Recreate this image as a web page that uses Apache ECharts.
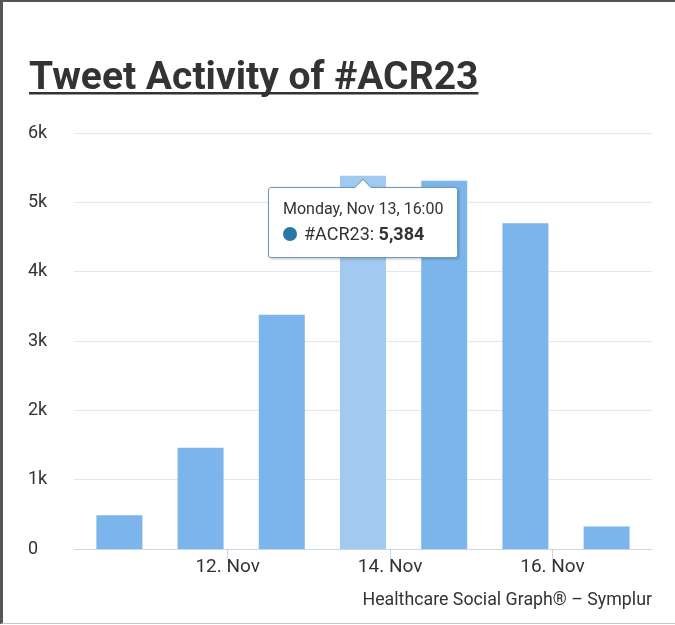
<!DOCTYPE html>
<html>
<head>
<meta charset="utf-8">
<script src="https://cdn.jsdelivr.net/npm/echarts@6/dist/echarts.min.js"></script>
<style>
  html, body { margin: 0; padding: 0; background: #fff; }
  #wrap { position: relative; width: 675px; height: 625px; }
  #chart { position: absolute; left: 0; top: 0; width: 675px; height: 625px; }
  #frame { position: absolute; left: 0; top: 0; width: 675px; height: 624px; box-sizing: border-box;
           border-left: 3px solid #555; border-top: 2px solid #555; border-bottom: 1px solid #c8c8c8; pointer-events: none; }
  .hc-tip::before { content: ''; position: absolute; left: 50%; top: -7px; width: 11px; height: 11px; margin-left: -6px;
           background: #fff; border-left: 1px solid #6b9bbb; border-top: 1px solid #6b9bbb; transform: rotate(45deg); }
</style>
</head>
<body>
<div id="wrap"><div id="chart"></div><div id="frame"></div></div>
<script>
// ---- data ----
const titleText = 'Tweet Activity of #ACR23';
const creditText = 'Healthcare Social Graph\u00AE \u2013 Symplur';
const seriesName = '#ACR23';
const barDates = ['2023-11-10 16:00', '2023-11-11 16:00', '2023-11-12 16:00', '2023-11-13 16:00',
                  '2023-11-14 16:00', '2023-11-15 16:00', '2023-11-16 16:00'];
const barValues = [485, 1460, 3380, 5384, 5310, 4700, 325];
const tickDates = ['2023-11-12 00:00', '2023-11-14 00:00', '2023-11-16 00:00'];
const tickLabels = ['12. Nov', '14. Nov', '16. Nov'];
const yTicks = [0, 1000, 2000, 3000, 4000, 5000, 6000];
const yTickLabels = ['0', '1k', '2k', '3k', '4k', '5k', '6k'];
const axisStart = '2023-11-10 02:35';
const axisEnd = '2023-11-17 05:25';
const hoverIndex = 3;

// ---- helpers ----
function ts(s) {
  const m = s.match(/(\d+)-(\d+)-(\d+) (\d+):(\d+)/);
  return Date.UTC(+m[1], +m[2] - 1, +m[3], +m[4], +m[5]);
}
const dayNames = ['Sunday','Monday','Tuesday','Wednesday','Thursday','Friday','Saturday'];
const monNames = ['Jan','Feb','Mar','Apr','May','Jun','Jul','Aug','Sep','Oct','Nov','Dec'];
function fmtDate(t) {
  const d = new Date(t);
  const hh = String(d.getUTCHours()).padStart(2, '0');
  const mm = String(d.getUTCMinutes()).padStart(2, '0');
  return dayNames[d.getUTCDay()] + ', ' + monNames[d.getUTCMonth()] + ' ' + d.getUTCDate() + ', ' + hh + ':' + mm;
}
const tickTs = tickDates.map(ts);

const barData = barDates.map((d, i) => {
  const item = { value: [ts(d), barValues[i]] };
  if (i === hoverIndex) item.itemStyle = { color: '#a2caf1' };
  return item;
});
const pointData = barDates.map((d, i) => [ts(d), barValues[i]]);

// underline width
const cv = document.createElement('canvas').getContext('2d');
cv.font = 'bold 39px Roboto';
const titleW = cv.measureText(titleText).width;

const chart = echarts.init(document.getElementById('chart'), null, { renderer: 'canvas' });
const option = {
  animation: false,
  textStyle: { fontFamily: 'Roboto' },
  title: [
    { text: titleText, left: 29, top: 60, padding: 0,
      textStyle: { fontFamily: 'Roboto', fontSize: 39, fontWeight: 'bold', color: '#333' } },
    { text: creditText, right: 23, top: 592, padding: 0,
      textStyle: { fontFamily: 'Roboto', fontSize: 17.8, fontWeight: 'normal', color: '#333' } }
  ],
  graphic: [
    { type: 'rect', left: 29, top: 92, shape: { width: titleW, height: 2.5 }, style: { fill: '#333' }, silent: true }
  ],
  grid: { left: 74, right: 23, top: 133, bottom: 76, containLabel: false },
  tooltip: {
    trigger: 'item',
    position: 'bottom',
    className: 'hc-tip',
    alwaysShowContent: true,
    transitionDuration: 0,
    backgroundColor: '#fff',
    borderColor: '#6b9bbb',
    borderWidth: 1,
    padding: [9, 14, 11, 14],
    extraCssText: 'border-radius:3px;box-shadow:1px 1px 3px rgba(0,0,0,0.25);',
    textStyle: { fontFamily: 'Roboto', color: '#333' },
    formatter: function (p) {
      return '<div style="font-family:Roboto;font-size:16px;line-height:24px;color:#333">' + fmtDate(p.value[0]) + '</div>' +
        '<div style="font-family:Roboto;font-size:18px;line-height:25px;color:#333">' +
        '<span style="display:inline-block;width:14px;height:14px;border-radius:50%;background:#2778a8;margin-right:7px;vertical-align:-1px"></span>' +
        p.seriesName + ': <b>' + p.value[1].toLocaleString('en-US') + '</b></div>';
    }
  },
  xAxis: {
    type: 'value',
    min: ts(axisStart),
    max: ts(axisEnd),
    axisLine: { show: true, lineStyle: { color: '#ccd6eb', width: 1 } },
    axisTick: { show: true, customValues: tickTs, length: 10, lineStyle: { color: '#ccd6eb' } },
    axisLabel: {
      customValues: tickTs,
      margin: 9,
      fontFamily: 'Roboto', fontSize: 19, color: '#333',
      formatter: function (v) {
        const i = tickTs.indexOf(v);
        return i >= 0 ? tickLabels[i] : '';
      }
    },
    splitLine: { show: false }
  },
  yAxis: {
    type: 'value',
    min: 0, max: 6000, interval: 1000,
    axisLine: { show: false },
    axisTick: { show: false },
    axisLabel: {
      align: 'left', margin: 46,
      fontFamily: 'Roboto', fontSize: 18, color: '#333',
      formatter: function (v) {
        const i = yTicks.indexOf(v);
        return i >= 0 ? yTickLabels[i] : '';
      }
    },
    splitLine: { lineStyle: { color: '#e6e6e6', width: 1 } }
  },
  series: [
    { type: 'bar', name: seriesName, data: barData, barWidth: 46,
      itemStyle: { color: '#7cb5ec' }, tooltip: { show: false }, silent: true, z: 2 },
    { type: 'scatter', name: seriesName, data: pointData, symbolSize: 2,
      itemStyle: { opacity: 0 }, z: 3 }
  ]
};
chart.setOption(option);
chart.dispatchAction({ type: 'showTip', seriesIndex: 1, dataIndex: hoverIndex, position: 'bottom' });
</script>
</body>
</html>
